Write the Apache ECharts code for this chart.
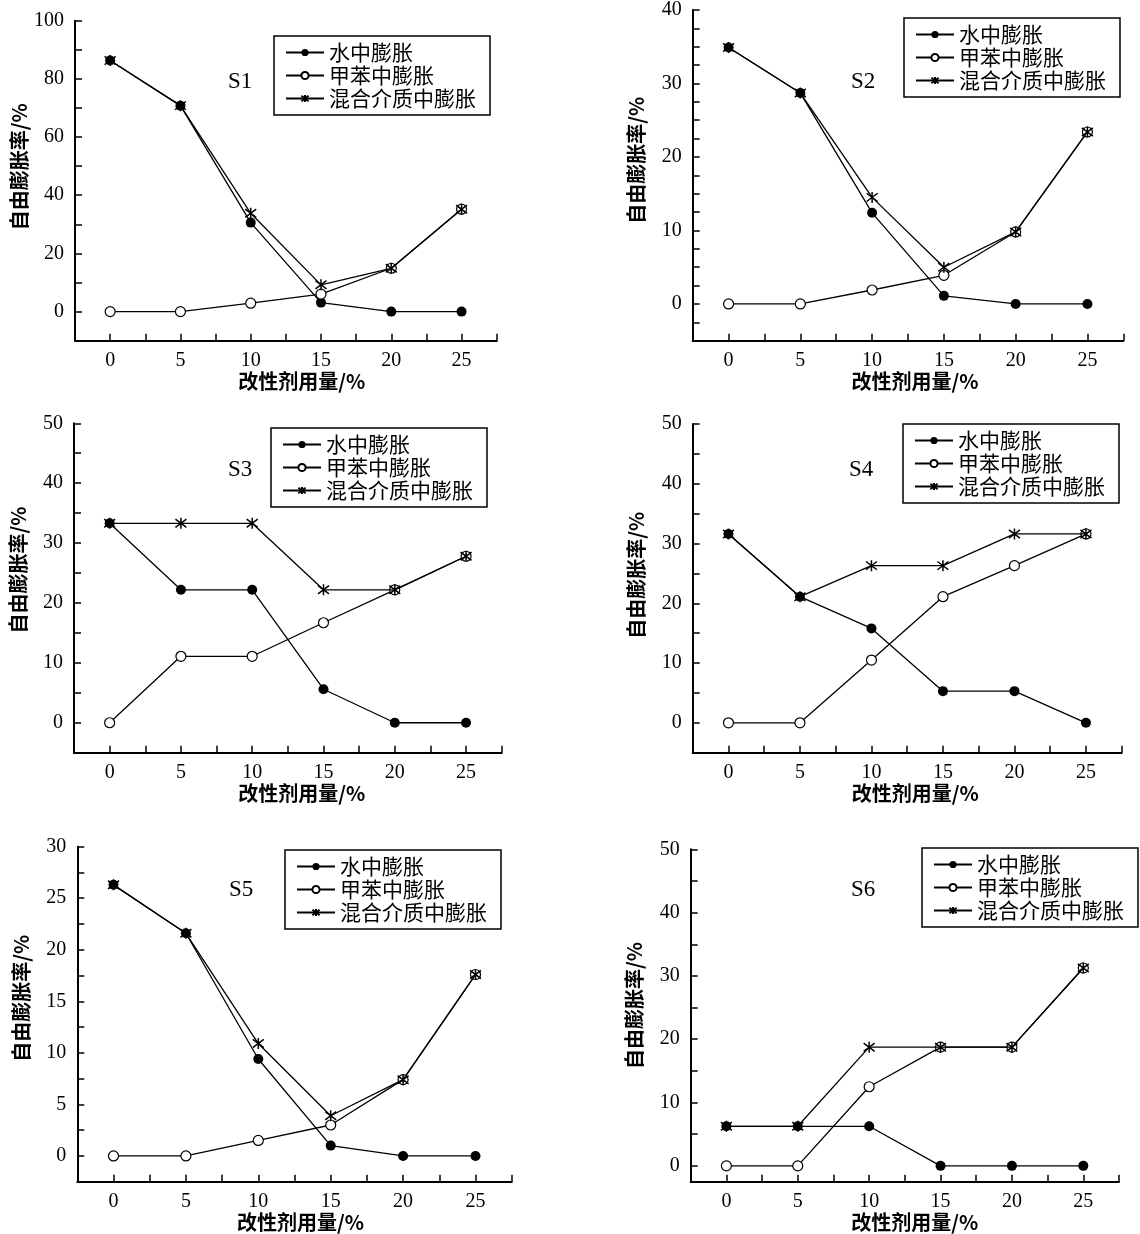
<!DOCTYPE html>
<html>
<head>
<meta charset="utf-8">
<title>自由膨胀率</title>
<script src="https://cdn.jsdelivr.net/npm/echarts@6/dist/echarts.min.js"></script>
<style>
  html, body { margin: 0; padding: 0; background: #fff; }
  #chart { width: 1140px; height: 1234px; }
</style>
</head>
<body>
<div id="chart"></div>
<script>
// 改性剂用量 (%)
const xValues = [0, 5, 10, 15, 20, 25];
const seriesNames = ["水中膨胀", "甲苯中膨胀", "混合介质中膨胀"];
const panelTitles = ["S1", "S2", "S3", "S4", "S5", "S6"];

// 自由膨胀率 (%)
const s1Water = [86.3, 70.8, 30.6, 3.1, 0, 0];
const s1Toluene = [0, 0, 2.9, 6.0, 14.9, 35.2];
const s1Mixed = [86.3, 70.8, 33.8, 9.2, 14.9, 35.2];

const s2Water = [34.9, 28.7, 12.4, 1.1, 0, 0];
const s2Toluene = [0, 0, 1.9, 3.9, 9.8, 23.4];
const s2Mixed = [34.9, 28.7, 14.5, 5.0, 9.8, 23.4];

const s3Water = [33.3, 22.2, 22.2, 5.6, 0, 0];
const s3Toluene = [0, 11.1, 11.1, 16.7, 22.2, 27.8];
const s3Mixed = [33.3, 33.3, 33.3, 22.2, 22.2, 27.8];

const s4Water = [31.6, 21.1, 15.8, 5.3, 5.3, 0];
const s4Toluene = [0, 0, 10.5, 21.1, 26.3, 31.6];
const s4Mixed = [31.6, 21.1, 26.3, 26.3, 31.6, 31.6];

const s5Water = [26.3, 21.6, 9.4, 1.0, 0, 0];
const s5Toluene = [0, 0, 1.5, 3.0, 7.4, 17.6];
const s5Mixed = [26.3, 21.6, 10.9, 3.9, 7.4, 17.6];

const s6Water = [6.25, 6.25, 6.25, 0, 0, 0];
const s6Toluene = [0, 0, 12.5, 18.75, 18.75, 31.25];
const s6Mixed = [6.25, 6.25, 18.75, 18.75, 18.75, 31.25];

// y axis ranges: min, max, tick step, label step
const yRanges = [
  [-10, 100, 10, 20],
  [-5, 40, 2.5, 10],
  [-5, 50, 5, 10],
  [-5, 50, 5, 10],
  [-2.5, 30, 2.5, 5],
  [-2.5, 50, 5, 10]
];

const panelData = [
  [s1Water, s1Toluene, s1Mixed],
  [s2Water, s2Toluene, s2Mixed],
  [s3Water, s3Toluene, s3Mixed],
  [s4Water, s4Toluene, s4Mixed],
  [s5Water, s5Toluene, s5Mixed],
  [s6Water, s6Toluene, s6Mixed]
];

// layout of each panel (px)
const layout = [
  { left: 75, top: 20.7, width: 421.7, height: 320, legend: [274, 36], label: [240, 82], xShift: 16, yShift: 14 },
  { left: 692.7, top: 9.3, width: 430.6, height: 331.4, legend: [904, 18], label: [863, 82], xShift: 7, yShift: 15 },
  { left: 74, top: 423.3, width: 427.7, height: 329.4, legend: [271, 428], label: [240, 470], xShift: 14, yShift: 18 },
  { left: 692.7, top: 424, width: 429, height: 328.7, legend: [903, 424], label: [861, 470], xShift: 8, yShift: 13 },
  { left: 77.3, top: 846.7, width: 434.4, height: 335, legend: [285, 850], label: [241, 890], xShift: 6, yShift: 16 },
  { left: 690.7, top: 849.3, width: 428.3, height: 332.4, legend: [922, 848], label: [863, 890], xShift: 10, yShift: 10 }
];

const serifFont = "'Liberation Serif', 'DejaVu Serif', serif";
const cjkFont = "'Noto Sans CJK SC', sans-serif";
const starPath = "path://M0,-10L0,10M-7.5,-7.5L7.5,7.5M-7.5,7.5L7.5,-7.5";

function isStep(v, step) {
  const r = Math.abs(v / step - Math.round(v / step));
  return r < 1e-6;
}

function range(a, b, step) {
  const out = [];
  for (let v = a; v <= b + 1e-9; v += step) out.push(Math.round(v * 1000) / 1000);
  return out;
}

let myChart = echarts.init(document.getElementById("chart"));

const grid = [], xAxis = [], yAxis = [], series = [], legend = [], title = [];
const customAxes = [];

layout.forEach((p, i) => {
  const [ymin, ymax, ystep, ymajor] = yRanges[i];
  grid.push({ left: p.left, top: p.top, width: p.width, height: p.height, containLabel: false });

  xAxis.push({
    type: "value",
    gridIndex: i,
    min: -2.5,
    max: 27.5,
    interval: 2.5,
    name: "改性剂用量/%",
    nameLocation: "middle",
    nameGap: 30,
    nameTextStyle: { fontFamily: cjkFont, fontSize: 20, fontWeight: "bold", color: "#000", padding: [0, 0, 0, p.xShift * 2] },
    axisLine: { onZero: false, lineStyle: { color: "#000", width: 2 } },
    axisTick: { inside: true, length: 7, lineStyle: { color: "#000", width: 1.5 } },
    axisLabel: {
      margin: 10,
      fontFamily: serifFont,
      fontSize: 20,
      color: "#000",
      formatter: v => (v >= 0 && v <= 25 && isStep(v, 5)) ? String(v) : ""
    },
    splitLine: { show: false }
  });

  const y = {
    type: "value",
    gridIndex: i,
    min: ymin,
    max: ymax,
    name: "自由膨胀率/%",
    nameLocation: "middle",
    nameGap: 46,
    nameTextStyle: { fontFamily: cjkFont, fontSize: 20, fontWeight: "bold", color: "#000", padding: [0, 0, 0, p.yShift * 2] },
    axisLine: { onZero: false, lineStyle: { color: "#000", width: 2 } },
    axisTick: { inside: true, length: 7, lineStyle: { color: "#000", width: 1.5 } },
    axisLabel: {
      margin: 11,
      fontFamily: serifFont,
      fontSize: 20,
      color: "#000",
      formatter: v => (v >= 0 && isStep(v, ymajor)) ? String(v) : ""
    },
    splitLine: { show: false }
  };
  if (isStep(ymin, ystep)) {
    y.interval = ystep;
  } else {
    // min is not on the tick grid: list the ticks
    y.splitNumber = 5;
    y.axisTick.customValues = range(0, ymax, ystep);
    y.axisLabel.customValues = range(0, ymax, ymajor);
    customAxes.push({ index: i, count: range(0, ymax, ystep).length });
  }
  yAxis.push(y);

  const [water, toluene, mixed] = panelData[i];
  const toPts = arr => xValues.map((x, k) => [x, arr[k]]);
  series.push({
    name: seriesNames[0], type: "line", xAxisIndex: i, yAxisIndex: i,
    data: toPts(water), symbol: "circle", symbolSize: 10,
    itemStyle: { color: "#000" },
    lineStyle: { color: "#000", width: 1.3 }, z: 2
  });
  series.push({
    name: seriesNames[1], type: "line", xAxisIndex: i, yAxisIndex: i,
    data: toPts(toluene), symbol: "circle", symbolSize: 10,
    itemStyle: { color: "#fff", borderColor: "#000", borderWidth: 1.2 },
    lineStyle: { color: "#000", width: 1.3 }, z: 3
  });
  series.push({
    name: seriesNames[2], type: "line", xAxisIndex: i, yAxisIndex: i,
    data: toPts(mixed), symbol: starPath, symbolSize: 11,
    itemStyle: { color: "#000", borderColor: "#000", borderWidth: 1.5 },
    lineStyle: { color: "#000", width: 1.3 }, z: 4
  });

  legend.push({
    left: p.legend[0],
    top: p.legend[1],
    orient: "vertical",
    data: seriesNames,
    itemWidth: 38,
    itemHeight: 9,
    itemGap: 2,
    padding: [6, 14, 6, 11],
    borderColor: "#000",
    borderWidth: 1.5,
    backgroundColor: "#fff",
    selectedMode: false,
    textStyle: { fontFamily: cjkFont, fontSize: 21, color: "#000" }
  });

  title.push({
    text: panelTitles[i],
    left: p.label[0] - 12,
    top: p.label[1] - 12,
    padding: 0,
    textStyle: { fontFamily: serifFont, fontSize: 23, fontWeight: "normal", color: "#000" }
  });
});

myChart.setOption({
  animation: false,
  backgroundColor: "#fff",
  title: title,
  legend: legend,
  grid: grid,
  xAxis: xAxis,
  yAxis: yAxis,
  series: series
});

// if customValues are not honoured, fall back to auto ticks plus minor ticks
customAxes.forEach(c => {
  let ok = false;
  try {
    const ax = myChart.getModel().getComponent("yAxis", c.index).axis;
    ok = ax.getTicksCoords().length === c.count;
  } catch (e) {
    ok = true;
  }
  if (!ok) {
    const patch = [];
    for (let k = 0; k < c.index; k++) patch.push({});
    patch.push({ minorTick: { show: true, splitNumber: 2, length: 7, lineStyle: { color: "#000", width: 1.5 } } });
    myChart.setOption({ yAxis: patch });
  }
});
</script>
</body>
</html>
